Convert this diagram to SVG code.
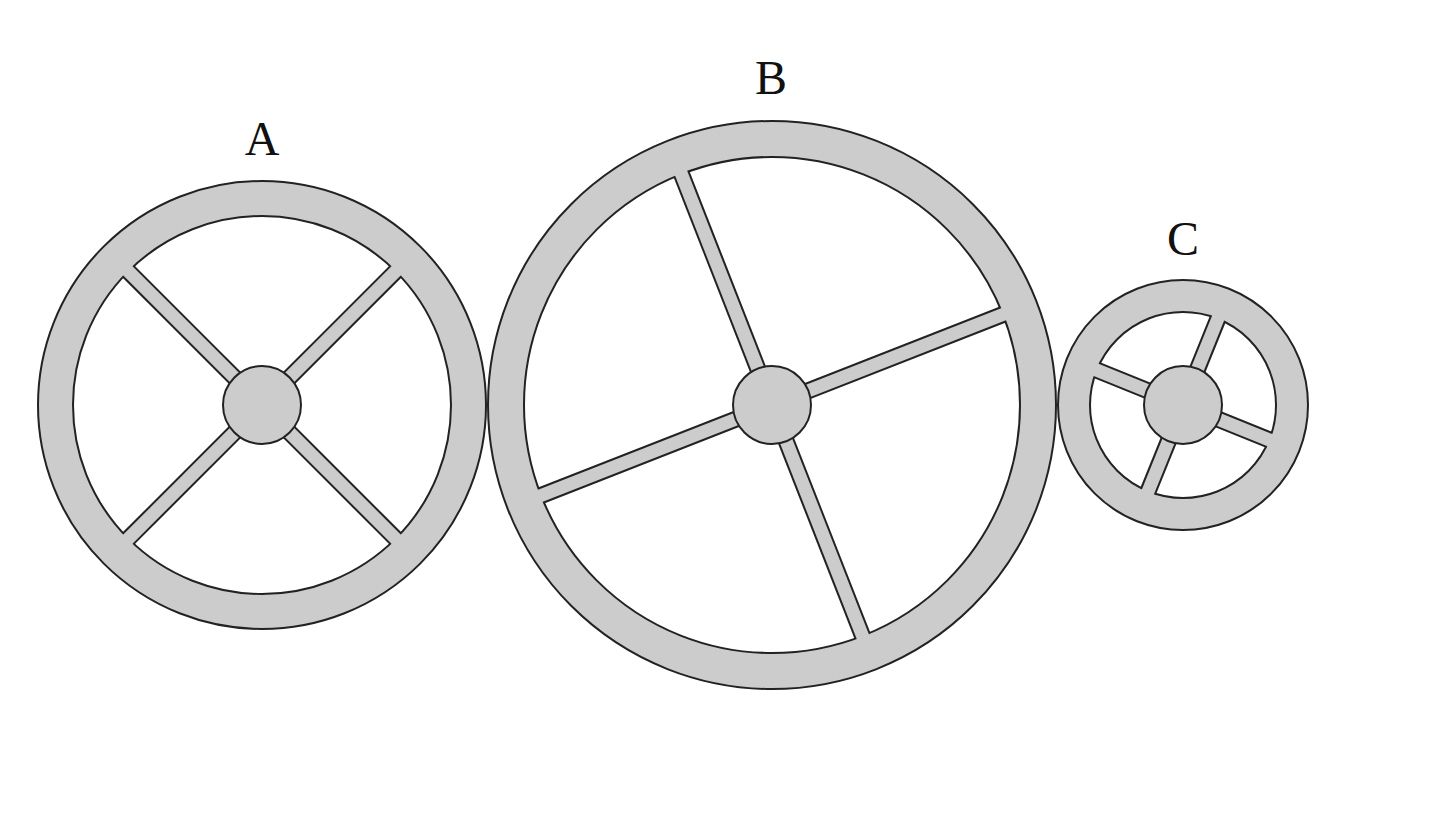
<svg xmlns="http://www.w3.org/2000/svg" width="1440" height="823" viewBox="0 0 1440 823">
<style>
.rim{fill:#cccccc;stroke:#222;stroke-width:2}
.in{fill:#fff;stroke:#222;stroke-width:2}
.sb{stroke:#222;stroke-width:17;stroke-linecap:butt}
.sg{stroke:#cccccc;stroke-width:13;stroke-linecap:butt}
.hub{fill:#cccccc;stroke:#222;stroke-width:2}
text{font-family:"Liberation Serif",serif;font-size:48px;fill:#111;text-anchor:middle}
</style>
<rect width="1440" height="823" fill="#fff"/>
<g id="wheelA">
<circle class="rim" cx="262" cy="405" r="224"/>
<circle class="in" cx="262" cy="405" r="189"/>
<line class="sb" x1="128.4" y1="271.4" x2="395.6" y2="538.6"/>
<line class="sb" x1="128.4" y1="538.6" x2="395.6" y2="271.4"/>
<line class="sg" x1="126.9" y1="269.9" x2="397.1" y2="540.1"/>
<line class="sg" x1="126.9" y1="540.1" x2="397.1" y2="269.9"/>
<circle class="hub" cx="262" cy="405" r="39"/>
<text x="262" y="155">A</text>
</g>
<g id="wheelB">
<circle class="rim" cx="772" cy="405" r="284"/>
<circle class="in" cx="772" cy="405" r="248"/>
<line class="sb" x1="681.5" y1="174.1" x2="862.5" y2="635.9"/>
<line class="sb" x1="1002.9" y1="314.5" x2="541.1" y2="495.5"/>
<line class="sg" x1="680.7" y1="172.2" x2="863.3" y2="637.8"/>
<line class="sg" x1="1004.8" y1="313.7" x2="539.2" y2="496.3"/>
<circle class="hub" cx="772" cy="405" r="39"/>
<text x="771" y="94">B</text>
</g>
<g id="wheelC">
<circle class="rim" cx="1183" cy="405" r="125"/>
<circle class="in" cx="1183" cy="405" r="93"/>
<line class="sb" x1="1217.9" y1="318.8" x2="1148.1" y2="491.2"/>
<line class="sb" x1="1269.2" y1="439.9" x2="1096.8" y2="370.1"/>
<line class="sg" x1="1218.6" y1="316.9" x2="1147.4" y2="493.1"/>
<line class="sg" x1="1271.1" y1="440.6" x2="1094.9" y2="369.4"/>
<circle class="hub" cx="1183" cy="405" r="39"/>
<text x="1183" y="255">C</text>
</g>
<g id="connectors"/>
</svg>
